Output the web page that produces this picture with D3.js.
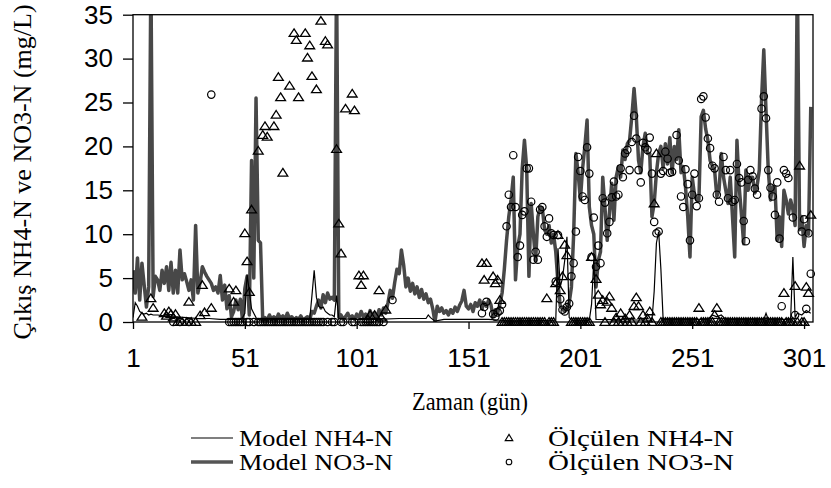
<!DOCTYPE html>
<html>
<head>
<meta charset="utf-8">
<script src="https://cdn.jsdelivr.net/npm/d3@7"></script>
<style>
  body { margin: 0; background: #fff; }
  svg { display: block; }
</style>
</head>
<body>
<script>

// x tick labels (gün) and y ticks (mg/L)
let xTicks = [1, 51, 101, 151, 201, 251, 301];
let yTicks = [0, 5, 10, 15, 20, 25, 30, 35];

// Model NO3-N, [gün, mg/L]
let modelNO3 = [
  [1,5.9],[2,3.3],[3,7.3],[4,2.5],[5,6.7],[6,4.2],[7,1.7],[8,4],[9,40],[10,2.9],
  [11,5.2],[12,4.8],[13,3.6],[14,5.9],[15,4.4],[16,6.3],[17,3.6],[18,6.8],[19,3.3],[20,5.9],
  [21,3.3],[22,8.2],[23,4.8],[24,5.5],[25,4.6],[26,3.6],[27,4.8],[28,2.5],[29,11],[30,3.3],
  [31,4.5],[32,6.3],[33,5.7],[34,5.2],[35,4.8],[36,4.4],[37,3.6],[38,4],[39,3.3],[40,5.3],
  [41,2.5],[42,4.2],[43,1.5],[44,3],[45,0.6],[46,1.2],[47,2.5],[48,1.4],[49,2.6],[50,0.1],
  [51,3.8],[52,5.2],[53,0.8],[54,18.4],[55,5],[56,25.5],[57,9.3],[58,9],[59,0.2],[60,0.5],
  [61,0.2],[62,0.8],[63,0.3],[64,0.6],[65,0.2],[66,0.9],[67,0.4],[68,0.7],[69,0.3],[70,1.0],
  [71,0.4],[72,0.6],[73,0.2],[74,0.5],[75,0.3],[76,0.7],[77,0.2],[78,0.4],[79,0.6],[80,0.3],
  [81,1.2],[82,1.0],[83,1.8],[84,2.5],[85,1.6],[86,3.1],[87,2.2],[88,3.3],[89,2.6],[90,2.8],
  [91,2.5],[92,40],[93,0.5],[94,0.8],[95,0.3],[96,0.6],[97,1.0],[98,0.4],[99,0.7],[100,0.3],
  [101,0.9],[102,0.5],[103,1.2],[104,0.6],[105,0.9],[106,0.4],[107,1.3],[108,0.7],[109,1.0],[110,0.5],
  [111,1.4],[112,0.8],[113,1.6],[114,1.0],[115,2.2],[116,3.6],[117,2.7],[118,4.5],[119,6],[120,5.5],
  [121,8.2],[122,6.5],[123,4],[124,5],[125,3.5],[126,4.4],[127,3.2],[128,4],[129,2.8],[130,3.7],
  [131,2.6],[132,3.2],[133,2.2],[134,2.6],[135,1.5],[136,0],[137,1.8],[138,1.2],[139,1.6],[140,1],
  [141,1.3],[142,0.8],[143,1.4],[144,1],[145,1.7],[146,1.2],[147,1.9],[148,2.4],[149,3.6],[150,1.8],
  [151,1.5],[152,2],[153,1.2],[154,2.2],[155,1.8],[156,2.5],[157,1.5],[158,2.2],[159,1.8],[160,2.5],
  [161,2],[162,0.6],[163,1.4],[164,1],[165,2],[166,3.3],[167,6],[168,9.3],[169,12],[170,13.9],
  [171,16.5],[172,4.8],[173,8.6],[174,10],[175,17.5],[176,20.7],[177,17.5],[178,5.2],[179,13.5],[180,10],
  [181,7],[182,12],[183,13],[184,13],[185,10.5],[186,10],[187,11],[188,9],[189,10],[190,8],
  [191,4.4],[192,1.8],[193,1.5],[194,1.2],[195,1.6],[196,2.2],[197,4],[198,10],[199,19.2],[200,17],
  [201,13.9],[202,17.5],[203,20],[204,23],[205,13.1],[206,11],[207,10],[208,4],[209,7],[210,8],
  [211,16.5],[212,13],[213,9.3],[214,12.4],[215,15.8],[216,11.6],[217,16.5],[218,17.7],[219,16.5],[220,19.6],
  [221,18.5],[222,20.3],[223,20.7],[224,23.4],[225,26.6],[226,23.4],[227,18.4],[228,17],[229,20],[230,21.5],
  [231,19.2],[232,19.2],[233,12],[234,13.5],[235,17],[236,19.2],[237,20],[238,17.5],[239,20.3],[240,18],
  [241,21],[242,17],[243,20],[244,18.5],[245,21.9],[246,17],[247,17.7],[248,15.4],[249,12],[250,7.4],
  [251,16.5],[252,14.5],[253,13.9],[254,13.9],[255,23.4],[256,24.1],[257,22],[258,20.7],[259,18.4],[260,17.8],
  [261,17.3],[262,14.3],[263,15],[264,19.2],[265,16.5],[266,15],[267,13.5],[268,16.5],[269,12],[270,7.4],
  [271,20.7],[272,15.4],[273,12.3],[274,8.9],[275,17.3],[276,15],[277,16.5],[278,16.5],[279,14.7],[280,15.5],
  [281,17.3],[282,25.3],[283,31],[284,24],[285,17.3],[286,13.9],[287,15.4],[288,15.4],[289,9.3],[290,12],
  [291,8.6],[292,15],[293,13.9],[294,12.3],[295,13.9],[296,12.8],[297,11],[298,40],[299,10.5],[300,12],
  [301,8.6],[302,11],[303,10],[304,24.5]
];

// Model NH4-N, [gün, mg/L]
let modelNH4 = [
  [1,0.5],[2,2.2],[3,1.8],[4,1.2],[5,1.0],[6,0.9],[7,1.0],[8,0.8],[9,0.9],[10,0.8],[12,0.8],
  [15,0.7],[18,0.6],[20,0.6],[25,0.5],[30,0.4],[35,0.4],[40,0.3],[45,0.3],[49,0.3],[50,0.5],
  [51,1.0],[52,5.4],[53,3.5],[54,1.5],[55,1.0],[56,0.5],[57,0.3],[58,0.2],[80,0.3],[81,3],
  [82,5.9],[83,2.8],[84,1.8],[85,1.6],[86,1.7],[87,1.2],[88,1.0],[89,0.8],[90,0.8],[91,0.6],
  [92,3],[93,0.4],[100,0.3],[110,0.3],[120,0.4],[132,0.4],[133,0.8],[134,0.5],[136,0.1],[140,0.3],
  [160,0.3],[165,0.2],[170,0.1],[190,0.2],[191,8.4],[192,4],[193,5],[194,7],[195,9.7],[196,0.5],
  [197,0.2],[205,0.2],[206,2],[207,7],[208,0.3],[233,0.2],[234,3.5],[235,9],[236,10.3],[237,6],
  [238,0.3],[258,0.3],[260,0.8],[262,0.6],[264,0.8],[266,0.3],[283,0.3],[284,1],[285,0.3],[295,0.3],
  [296,7.4],[297,0.5],[298,1],[300,0.8],[302,1.3],[304,1.0]
];

// Ölçülen NH4-N (triangles), [gün, mg/L]
let obsNH4 = [
  [5,0.6],[9,2.7],[10,1.6],[15,1.0],[16,0.7],[17,1.2],[18,0.9],[19,0.5],[20,0.9],[21,0],
  [23,0],[25,0],[27,0],[29,0],[26,2.3],[31,0.75],[32,4.2],[33,1.1],[36,1.6],[44,3.8],
  [46,2.3],[47,3.6],[51,10.1],[52,6.9],[53,3.4],[54,12.8],
  [57,19.5],[59,21.3],[60,22.3],[61,21.1],[64,22.3],[65,23.6],[66,27.9],[67,25.6],[68,17.0],[71,26.9],
  [73,32.9],[74,32.1],[75,25.6],[78,32.9],[79,30.1],[80,31.5],[81,28],[83,26.5],[85,34.3],[87,32],
  [88,31.6],[92,19.7],[93,11.2],[94,7.8],[96,24.3],[99,26],[100,24.1],
  [102,5.3],[103,4.2],[104,5.3],[106,0.3],[107,0.8],[109,0.8],[111,3.6],[112,0.5],[114,1.4],
  [157,6.7],[158,4.8],[159,6.7],[162,5.2],[163,4.4],[164,4.8],[165,2.5],
  [166,0],[167,0],[168,0],[169,0],[170,0],[171,0],[172,0],[173,0],[174,0],[175,0],
  [176,0],[177,0],[178,0],[179,0],[180,0],[181,0],[182,0],[183,0],[184,0],[185,0],
  [186,2.7],[187,0],[188,0],[189,0],[190,4.4],[191,9.9],[192,3.6],[193,5.2],[194,8.8],[195,7.6],
  [197,0],[198,0],[199,0],[200,0],[201,0],[202,0],[203,0],[204,0],[205,0],
  [206,7.4],[208,4.9],[209,3.1],[210,2.0],[211,2.5],[212,0],[213,2.3],[214,2.9],[215,1.6],[216,0],
  [217,0.5],[218,0],[219,1.0],[220,0],[221,0.4],[222,0],[223,0.8],[224,0],[225,1.8],[226,2.8],
  [227,1.8],[228,0],[229,0.8],[230,0],[231,0.4],[232,1.2],[233,0],[234,13.5],[235,19.2],
  [237,0],[238,0],[239,0],[240,0],[241,0],[242,0],[243,0],[244,0],[245,0],[246,0],
  [247,0],[248,0],[249,0],[250,0],[251,0],[252,0],[253,0],[254,1.6],[255,0],[256,0],
  [257,0],[258,0],[259,0],[260,0],[261,0.8],[262,1.6],[263,0],[264,0],[265,0],[266,0],
  [267,0],[268,0],[269,0],[270,0],[271,0],[272,0],[273,0],[274,0],[275,0],[276,0],
  [277,0],[278,0],[279,0],[280,0],[281,0],[282,0],[283,0],[284,0],[285,0],[286,0],
  [287,0],[288,0],[289,0],[290,0],[291,0],[292,3.3],[293,0],[294,0],[295,0],[296,0],
  [297,4.1],[298,0],[299,17.8],[300,0],[301,0],[302,4],[303,3.3],[304,12.2]
];

// Ölçülen NO3-N (circles), [gün, mg/L]
let obsNO3 = [
  [19,0],[22,0],[26,0],[36,25.9],
  [44,0],[45,0],[46,0],[47,0],[48,0],[49,0],[50,0],[52,0],[53,0],[55,0],
  [57,0],[58,0],[59,0],[60,0],[61,0],[62,0],[63,0],[64,0],[65,0],[66,0],
  [67,0],[68,0],[69,0],[70,0],[71,0],[72,0],[73,0],[74,0],[75,0],[76,0],
  [77,0],[78,0],[79,0],[80,0],[81,0],[82,0],[83,0],[84,0],[85,0],[86,0],
  [88,0],[90,0],[91,0],[94,0],[95,0],[99,0],[100,0],[103,0],[104,0],[105,0],
  [106,0],[107,0],[108,0],[109,0],[110,0],[111,0],[113,0],[117,2.5],
  [157,1.0],[158,1.7],[159,2.3],[162,0.9],[163,0.6],[164,1.1],[165,1.3],[166,2.0],
  [168,10.9],[169,14.5],[170,13.1],[171,19.0],[172,13.1],[173,7.4],[174,8.7],[175,12.2],[176,12.6],[177,17.5],
  [178,17.5],[179,13.7],[180,7.1],[181,8.0],[182,7.1],[183,12.8],[184,13.1],[185,10.9],[186,9.7],[187,11.8],
  [188,10.1],[189,9.9],[190,4.6],[191,9.9],[192,2.6],[193,1.4],[194,1.2],[195,1.7],[196,2.1],[197,5.2],
  [198,6.7],[199,10.3],[200,18.8],[201,17.2],[202,14.3],[203,13.9],[204,19.9],[205,16.9],[206,7.4],[207,11.9],
  [208,6.3],[209,8.7],[210,6.7],[211,14.1],[212,13.6],[213,10.1],[214,11.4],[215,14.2],[216,16],[217,14.3],
  [218,14.5],[219,17.5],[220,16.5],[221,19.2],[222,19.6],[223,17.3],[224,20.5],[225,23.5],[226,20.9],[227,17.3],
  [228,15.9],[229,20.4],[230,19.9],[231,19.6],[232,21.0],[233,16.9],[234,11.4],[235,10.1],[236,10.3],[237,16.9],
  [238,17.2],[239,19.4],[240,18.6],[241,17],[242,17.1],[244,21.3],[245,18.4],[246,14.3],[247,13.1],[248,17.4],
  [249,15.7],[250,9.3],[251,14.5],[252,16.9],[253,13.2],[254,14.1],[255,25.4],[256,25.7],[257,23.3],[258,20.9],
  [259,19.8],[260,17.8],[261,17.5],[262,14.5],[263,13.7],[265,18.8],[266,17.3],[267,14.1],[268,17.3],[269,13.7],
  [270,13.9],[271,18],[272,16.4],[273,15.9],[274,11.5],[275,9.2],[276,16.2],[277,17.3],[278,16.6],[279,15.2],
  [280,14.5],[282,24.3],[283,25.7],[284,23.2],[285,17.3],[286,15.3],[287,14.3],[288,12.2],[289,15.9],[290,9.5],
  [291,1.8],[292,17.3],[293,16.9],[294,16.4],[296,11.9],[297,0.8],[300,10.3],[301,11.7],[302,1.5],[303,10.1],
  [304,5.5]
];

let legendNames = ["Model NH4-N", "Model NO3-N", "Ölçülen NH4-N", "Ölçülen NO3-N"];


let W = 831, H = 488;
let plotL = 133, plotR = 813, plotT = 14.7, plotB = 322;
let serif = "'Liberation Serif', 'Times New Roman', serif";
let sans = "'Liberation Sans', Arial, sans-serif";

let svg = d3.select('body').append('svg').attr('width', W).attr('height', H);

let x = d3.scaleLinear().domain([1, 305]).range([plotL, plotR]);
let y = d3.scaleLinear().domain([0, 35]).range([plotB, plotT]);

svg.append("clipPath").attr("id", "plot")
    .append("rect").attr("x", plotL).attr("y", plotT).attr("width", plotR-plotL).attr("height", plotB-plotT);

let tri = "M0,-4.3L4.9,3.3L-4.9,3.3Z";

// lines
let line = d3.line().x(d => x(d[0])).y(d => y(d[1]));
let plot = svg.append("g").attr("clip-path", "url(#plot)");

plot.append("path").datum(modelNO3)
    .attr("d", line)
    .attr("fill", "none")
    .attr("stroke", "#484848")
    .attr("stroke-width", 3.5)
    .attr("stroke-linejoin", "round");

plot.append("path").datum(modelNH4)
    .attr("d", line)
    .attr("fill", "none")
    .attr("stroke", "#000")
    .attr("stroke-width", 1.2);

// markers
svg.selectAll("path.tri").data(obsNH4).enter()
    .append("path").attr("class", "tri")
    .attr("d", tri)
    .attr("transform", d => "translate(" + x(d[0]) + "," + y(d[1]) + ")")
    .attr("fill", "none").attr("stroke", "#000").attr("stroke-width", 1.3);

svg.selectAll("circle.obs").data(obsNO3).enter()
    .append("circle").attr("class", "obs")
    .attr("cx", d => x(d[0])).attr("cy", d => y(d[1])).attr("r", 3.7)
    .attr("fill", "none").attr("stroke", "#000").attr("stroke-width", 1.2);

// frame
svg.append("rect").attr("x", plotL).attr("y", plotT).attr("width", plotR-plotL).attr("height", plotB-plotT)
    .attr("fill", "none").attr("stroke", "#000").attr("stroke-width", 1.3);

// axes
let yAxis = svg.append("g").attr("transform", "translate(" + plotL + ",0)")
    .call(d3.axisLeft(y).tickValues(yTicks).tickSize(10).tickSizeOuter(0).tickPadding(10));
let xAxis = svg.append("g").attr("transform", "translate(0," + plotB + ")")
    .call(d3.axisBottom(x).tickValues(xTicks).tickSize(7).tickSizeOuter(0).tickPadding(20));

for (let ax of [xAxis, yAxis])
{
    ax.select(".domain").remove();
    ax.selectAll("line").attr("stroke", "#000").attr("stroke-width", 1.3);
    ax.selectAll("text").attr("fill", "#000").style("font-family", sans).style("font-size", "26px");
}

// titles
svg.append("text")
    .attr("transform", "translate(31,172) rotate(-90)")
    .attr("text-anchor", "middle")
    .style("font-family", serif).style("font-size", "26px")
    .text("Çıkış NH4-N ve NO3-N (mg/L)");

svg.append("text")
    .attr("x", 412).attr("y", 410)
    .attr("textLength", 116).attr("lengthAdjust", "spacingAndGlyphs")
    .style("font-family", serif).style("font-size", "26px")
    .text("Zaman (gün)");

// legend
let lg = svg.append("g").style("font-family", serif).style("font-size", "24px");
lg.append("line").attr("x1", 191).attr("x2", 233).attr("y1", 438).attr("y2", 438)
    .attr("stroke", "#000").attr("stroke-width", 1.2);
lg.append("line").attr("x1", 191).attr("x2", 233).attr("y1", 462).attr("y2", 462)
    .attr("stroke", "#555").attr("stroke-width", 3.5);
lg.append("path").attr("d", "M0,-3.6L3.8,2.6L-3.8,2.6Z").attr("transform", "translate(509,438)")
    .attr("fill", "none").attr("stroke", "#000").attr("stroke-width", 1.1);
lg.append("circle").attr("cx", 509).attr("cy", 462).attr("r", 2.8)
    .attr("fill", "none").attr("stroke", "#000").attr("stroke-width", 1.1);

let lx = [239, 239, 548, 548];
let ly = [446, 470, 446, 470];
let lw = [154, 154, 186, 186];
lg.selectAll("text").data(legendNames).enter().append("text")
    .attr("x", (d, i) => lx[i]).attr("y", (d, i) => ly[i])
    .attr("textLength", (d, i) => lw[i]).attr("lengthAdjust", "spacingAndGlyphs")
    .text(d => d);

</script>
</body>
</html>
